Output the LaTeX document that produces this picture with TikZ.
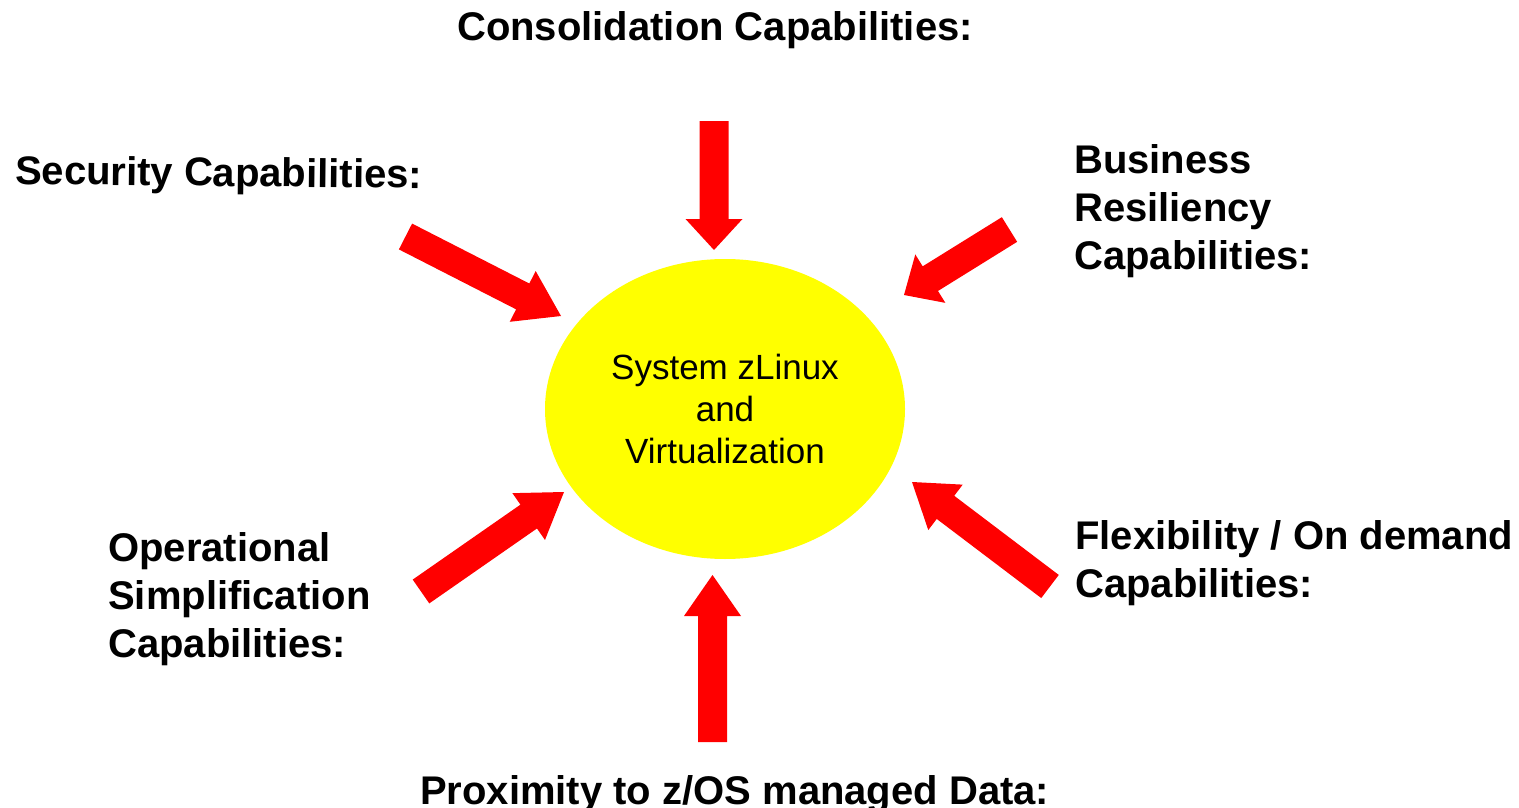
\documentclass[tikz,border=0pt]{standalone}
\usepackage{fontspec}
\setmainfont{Liberation Sans}
\usetikzlibrary{calc,shapes.geometric}
\definecolor{hubyellow}{RGB}{255,255,0}
\definecolor{arrowred}{RGB}{255,0,0}
\tikzset{
  arrowfill/.style={fill=arrowred},
  label/.style={font=\fontsize{40}{48}\selectfont\bfseries, inner sep=0pt, anchor=base west, align=left},
  hub/.style={ellipse, fill=hubyellow, minimum width=360pt, minimum height=300pt, inner sep=0pt,
    font=\fontsize{35}{42}\selectfont, align=center},
}
\newcommand\blockarrow[3]{%
  \coordinate (ba) at ($(#2)!#3!(#1)$);
  \fill[arrowfill] ($(#1)!14.5pt!90:(#2)$) -- ($(ba)!14.5pt!90:(#2)$) -- ($(ba)!28.5pt!90:(#2)$)
    -- (#2) -- ($(ba)!28.5pt!-90:(#2)$) -- ($(ba)!14.5pt!-90:(#2)$) -- ($(#1)!14.5pt!-90:(#2)$) -- cycle;
}
\begin{document}
\begin{tikzpicture}[x=1pt,y=-1pt]
\useasboundingbox (0,0) rectangle (1519,808);
\node[hub] (hub) at (725,409) {System zLinux\\and\\Virtualization};

\node[label] (cons) at (457,41) {Consolidation Capabilities:};
\node[label, rotate=-0.6] (sec) at (15,184) {Security Capabilities:};
\node[label] (bus) at (1074,269) {Business\\Resiliency\\Capabilities:};
\node[label] (ops) at (108,657) {Operational\\Simplification\\Capabilities:};
\node[label] (flex) at (1075,597) {Flexibility / On demand\\Capabilities:};
\node[label] (prox) at (420,804) {Proximity to z/OS managed Data:};

\coordinate (topT) at (714,121);   \coordinate (topH) at (714,250);
\coordinate (botT) at (712.5,742); \coordinate (botH) at (712.5,575);
\coordinate (secT) at (405.5,236.5); \coordinate (secH) at (561,316);
\coordinate (busT) at (1009.5,229.5); \coordinate (busH) at (904,295);
\coordinate (opsT) at (421,591.5); \coordinate (opsH) at (564,492);
\coordinate (flxT) at (1050,586.5); \coordinate (flxH) at (912,482);

\blockarrow{topT}{topH}{31pt}
\blockarrow{botT}{botH}{41pt}
\blockarrow{secT}{secH}{43pt}
\blockarrow{busT}{busH}{31pt}
\blockarrow{opsT}{opsH}{43pt}
\blockarrow{flxT}{flxH}{42pt}
\end{tikzpicture}
\end{document}
